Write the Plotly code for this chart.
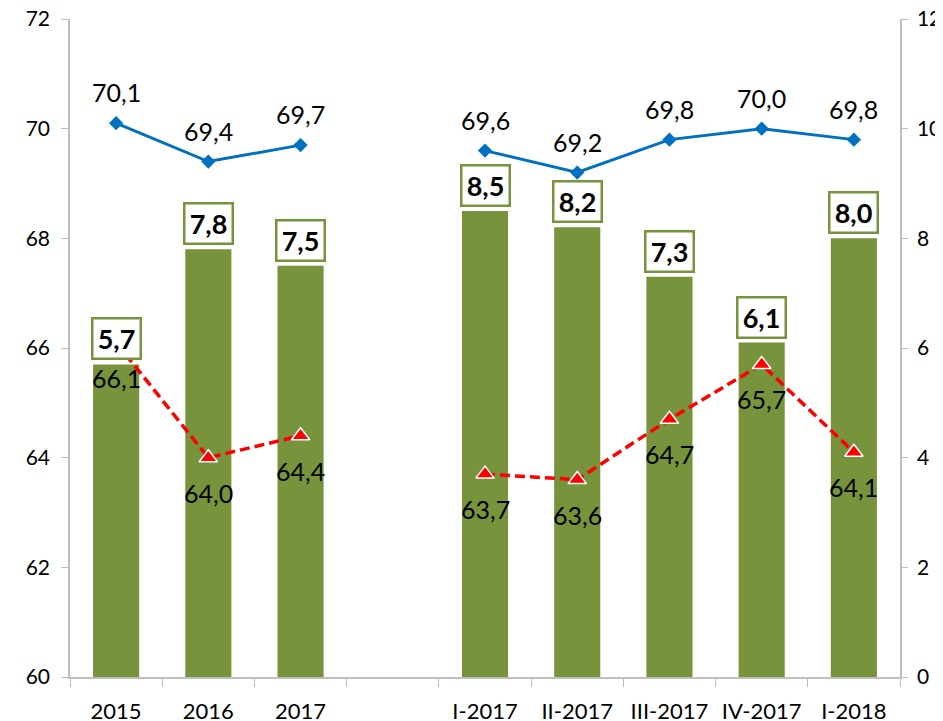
import plotly.graph_objects as go

categories = ["2015", "2016", "2017", " ", "I-2017", "II-2017", "III-2017", "IV-2017", "I-2018"]
bar_values = [5.7, 7.8, 7.5, None, 8.5, 8.2, 7.3, 6.1, 8.0]
blue_values = [70.1, 69.4, 69.7, None, 69.6, 69.2, 69.8, 70.0, 69.8]
red_values = [66.1, 64.0, 64.4, None, 63.7, 63.6, 64.7, 65.7, 64.1]
left_ticks = [60, 62, 64, 66, 68, 70, 72]
right_ticks = [0, 2, 4, 6, 8, 10, 12]

FONT = "Lato"
GREEN = "#77933C"
BLUE = "#0070C0"
RED = "#FF0000"
GRAY = "#BFBFBF"


def fmt(v):
    return f"{v:.1f}".replace(".", ",")


fig = go.Figure()
# bars on the base (right) axis, lines on the overlaying (left) axis so lines draw on top
fig.add_trace(go.Bar(x=categories, y=bar_values, yaxis="y", marker_color=GREEN,
                     marker_line_width=0, showlegend=False, hoverinfo="skip"))
fig.add_trace(go.Scatter(x=categories, y=blue_values, yaxis="y2", mode="lines+markers",
                         line=dict(color=BLUE, width=3),
                         marker=dict(symbol="diamond", size=11, color=BLUE),
                         showlegend=False, connectgaps=False))
fig.add_trace(go.Scatter(x=categories, y=red_values, yaxis="y2", mode="lines+markers",
                         line=dict(color=RED, width=3.5, dash="10px,5px"),
                         marker=dict(symbol="triangle-up", size=16, color=RED,
                                     line=dict(color="white", width=1.5)),
                         showlegend=False, connectgaps=False))

annotations = []
for i, v in enumerate(blue_values):
    if v is None:
        continue
    annotations.append(dict(x=i, y=v, xref="x", yref="y2", text=fmt(v), showarrow=False,
                            yshift=31, font=dict(family=FONT, size=25, color="black")))
for i, v in enumerate(red_values):
    if v is None:
        continue
    annotations.append(dict(x=i, y=v, xref="x", yref="y2", text=fmt(v), showarrow=False,
                            yshift=-35, font=dict(family=FONT, size=25, color="black")))
for i, v in enumerate(bar_values):
    if v is None:
        continue
    annotations.append(dict(x=i, y=v, xref="x", yref="y", text="<b>" + fmt(v) + "</b>",
                            showarrow=False, yanchor="bottom", yshift=4,
                            width=42, height=34, align="center", valign="middle",
                            bgcolor="white", bordercolor=GREEN, borderwidth=2.5, borderpad=2,
                            font=dict(family=FONT, size=27, color="black")))

fig.update_layout(
    width=935, height=713,
    margin=dict(l=62, r=43, t=11, b=44),
    template="none",
    plot_bgcolor="white", paper_bgcolor="white",
    bargap=0.5,
    font=dict(family=FONT, color="black"),
    annotations=annotations,
    xaxis=dict(type="category", range=[-0.5, len(categories) - 0.5],
               tickson="boundaries", ticks="outside", ticklen=8,
               tickcolor=GRAY, showline=True, linecolor=GRAY, linewidth=1.5,
               showgrid=False, zeroline=False, automargin=False,
               tickfont=dict(family=FONT, size=22, color="black"),
               ticklabelstandoff=14, ticklabeloverflow="allow"),
    yaxis=dict(range=[0, 12], tickvals=right_ticks, side="right",
               ticks="outside", ticklen=6, tickcolor=GRAY, showline=True,
               linecolor=GRAY, linewidth=1.5, showgrid=False, zeroline=False,
               automargin=False, tickfont=dict(family=FONT, size=21, color="black"),
               ticklabelstandoff=5, ticklabeloverflow="allow"),
    yaxis2=dict(range=[60, 72], tickvals=left_ticks, overlaying="y", side="left",
                ticks="outside", ticklen=7,
                tickcolor=GRAY, showline=True, linecolor=GRAY, linewidth=1.5,
                showgrid=False, zeroline=False, automargin=False,
                tickfont=dict(family=FONT, size=21, color="black"),
                ticklabelstandoff=7, ticklabeloverflow="allow"),
)

fig.write_html("out.html")
